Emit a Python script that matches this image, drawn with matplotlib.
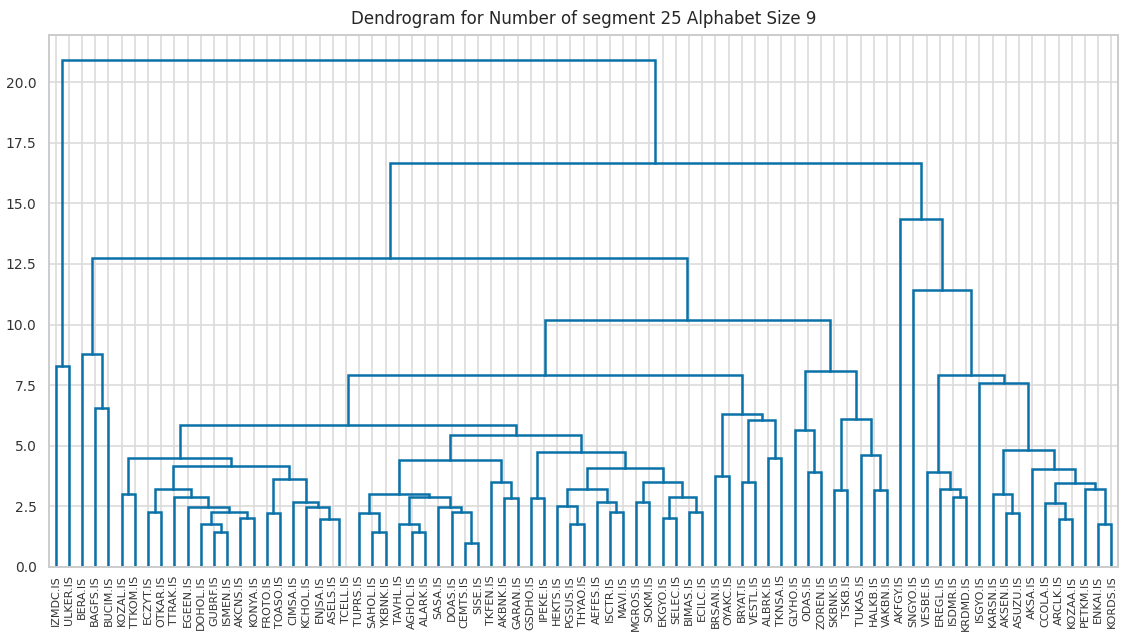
import matplotlib
matplotlib.use("Agg")
import numpy as np
from matplotlib import pyplot as plt

# leaf labels in dendrogram order
labels = [
    "IZMDC.IS", "ULKER.IS", "BERA.IS", "BAGFS.IS", "BUCIM.IS", "KOZAL.IS",
    "TTKOM.IS", "ECZYT.IS", "OTKAR.IS", "TTRAK.IS", "EGEEN.IS", "DOHOL.IS",
    "GUBRF.IS", "ISMEN.IS", "AKCNS.IS", "KONYA.IS", "FROTO.IS", "TOASO.IS",
    "CIMSA.IS", "KCHOL.IS", "ENJSA.IS", "ASELS.IS", "TCELL.IS", "TUPRS.IS",
    "SAHOL.IS", "YKBNK.IS", "TAVHL.IS", "AGHOL.IS", "ALARK.IS", "SASA.IS",
    "DOAS.IS", "CEMTS.IS", "SISE.IS", "TKFEN.IS", "AKBNK.IS", "GARAN.IS",
    "GSDHO.IS", "IPEKE.IS", "HEKTS.IS", "PGSUS.IS", "THYAO.IS", "AEFES.IS",
    "ISCTR.IS", "MAVI.IS", "MGROS.IS", "SOKM.IS", "EKGYO.IS", "SELEC.IS",
    "BIMAS.IS", "ECILC.IS", "BRSAN.IS", "OYAKC.IS", "BRYAT.IS", "VESTL.IS",
    "ALBRK.IS", "TKNSA.IS", "GLYHO.IS", "ODAS.IS", "ZOREN.IS", "SKBNK.IS",
    "TSKB.IS", "TUKAS.IS", "HALKB.IS", "VAKBN.IS", "AKFGY.IS", "SNGYO.IS",
    "VESBE.IS", "EREGL.IS", "ISDMR.IS", "KRDMD.IS", "ISGYO.IS", "KARSN.IS",
    "AKSEN.IS", "ASUZU.IS", "AKSA.IS", "CCOLA.IS", "ARCLK.IS", "KOZAA.IS",
    "PETKM.IS", "ENKAI.IS", "KORDS.IS",
]

# merges: (left, right, distance); a child is a label or the index of an earlier merge
merges = [
    ("ASELS.IS", "TCELL.IS", 0.0),      # 0
    ("GUBRF.IS", "ISMEN.IS", 1.43),     # 1
    ("DOHOL.IS", 1, 1.77),              # 2
    ("AKCNS.IS", "KONYA.IS", 2.03),     # 3
    (2, 3, 2.25),                       # 4
    ("EGEEN.IS", 4, 2.49),              # 5
    ("TTRAK.IS", 5, 2.87),              # 6
    ("ECZYT.IS", "OTKAR.IS", 2.25),     # 7
    (7, 6, 3.22),                       # 8
    ("FROTO.IS", "TOASO.IS", 2.24),     # 9
    ("ENJSA.IS", 0, 2.0),               # 10
    ("KCHOL.IS", 10, 2.49),             # 11
    ("CIMSA.IS", 11, 2.69),             # 12
    (9, 12, 3.64),                      # 13
    (8, 13, 4.16),                      # 14
    ("KOZAL.IS", "TTKOM.IS", 3.01),     # 15
    (15, 14, 4.48),                     # 16
    ("SAHOL.IS", "YKBNK.IS", 1.43),     # 17
    ("TUPRS.IS", 17, 2.24),             # 18
    ("AGHOL.IS", "ALARK.IS", 1.43),     # 19
    ("TAVHL.IS", 19, 1.77),             # 20
    ("CEMTS.IS", "SISE.IS", 1.0),       # 21
    ("DOAS.IS", 21, 2.25),              # 22
    ("SASA.IS", 22, 2.49),              # 23
    (20, 23, 2.87),                     # 24
    (18, 24, 3.01),                     # 25
    ("AKBNK.IS", "GARAN.IS", 2.86),     # 26
    ("TKFEN.IS", 26, 3.52),             # 27
    (25, 27, 4.41),                     # 28
    ("GSDHO.IS", "IPEKE.IS", 2.86),     # 29
    ("PGSUS.IS", "THYAO.IS", 1.77),     # 30
    ("HEKTS.IS", 30, 2.52),             # 31
    ("ISCTR.IS", "MAVI.IS", 2.25),      # 32
    ("AEFES.IS", 32, 2.69),             # 33
    (31, 33, 3.22),                     # 34
    ("MGROS.IS", "SOKM.IS", 2.69),      # 35
    ("EKGYO.IS", "SELEC.IS", 2.03),     # 36
    ("BIMAS.IS", "ECILC.IS", 2.25),     # 37
    (36, 37, 2.87),                     # 38
    (35, 38, 3.49),                     # 39
    (34, 39, 4.07),                     # 40
    (29, 40, 4.76),                     # 41
    (28, 41, 5.45),                     # 42
    (16, 42, 5.87),                     # 43
    ("BRSAN.IS", "OYAKC.IS", 3.77),     # 44
    ("BRYAT.IS", "VESTL.IS", 3.49),     # 45
    ("ALBRK.IS", "TKNSA.IS", 4.51),     # 46
    (45, 46, 6.06),                     # 47
    (44, 47, 6.30),                     # 48
    (43, 48, 7.90),                     # 49
    ("ODAS.IS", "ZOREN.IS", 3.90),      # 50
    ("GLYHO.IS", 50, 5.65),             # 51
    ("SKBNK.IS", "TSKB.IS", 3.18),      # 52
    ("HALKB.IS", "VAKBN.IS", 3.18),     # 53
    ("TUKAS.IS", 53, 4.62),             # 54
    (52, 54, 6.10),                     # 55
    (51, 55, 8.10),                     # 56
    (49, 56, 10.19),                    # 57
    ("BAGFS.IS", "BUCIM.IS", 6.57),     # 58
    ("BERA.IS", 58, 8.78),              # 59
    (59, 57, 12.74),                    # 60
    ("ISDMR.IS", "KRDMD.IS", 2.87),     # 61
    ("EREGL.IS", 61, 3.20),             # 62
    ("VESBE.IS", 62, 3.90),             # 63
    ("AKSEN.IS", "ASUZU.IS", 2.24),     # 64
    ("KARSN.IS", 64, 3.01),             # 65
    ("ARCLK.IS", "KOZAA.IS", 1.98),     # 66
    ("CCOLA.IS", 66, 2.65),             # 67
    ("ENKAI.IS", "KORDS.IS", 1.77),     # 68
    ("PETKM.IS", 68, 3.20),             # 69
    (67, 69, 3.45),                     # 70
    ("AKSA.IS", 70, 4.04),              # 71
    (65, 71, 4.82),                     # 72
    ("ISGYO.IS", 72, 7.57),             # 73
    (63, 73, 7.90),                     # 74
    ("SNGYO.IS", 74, 11.42),            # 75
    ("AKFGY.IS", 75, 14.34),            # 76
    (60, 76, 16.67),                    # 77
    ("IZMDC.IS", "ULKER.IS", 8.30),     # 78
    (78, 77, 20.90),                    # 79
]

line_color = "#0a72a8"
grid_color = "#dcdcdc"

leaf_x = {name: 5 + 10 * i for i, name in enumerate(labels)}
node_x = []
node_h = []


def child_pos(c):
    if isinstance(c, str):
        return leaf_x[c], 0.0
    return node_x[c], node_h[c]


fig = plt.figure(figsize=(11.21, 6.42), dpi=100)
ax = fig.add_axes([49 / 1121, 75 / 642, 1069 / 1121, 532 / 642])

for left, right, h in merges:
    xl, hl = child_pos(left)
    xr, hr = child_pos(right)
    ax.plot([xl, xl, xr, xr], [hl, h, h, hr], color=line_color, lw=1.8,
            solid_joinstyle="miter", zorder=2)
    node_x.append((xl + xr) / 2)
    node_h.append(h)

n = len(labels)
ax.set_xlim(0, 10 * n)
ax.set_ylim(0, max(node_h) * 1.05)
ax.set_xticks([leaf_x[l] for l in labels])
ax.set_xticklabels(labels, rotation=90, fontsize=8, color="#333333")
ax.set_yticks(np.arange(0, 21, 2.5))
ax.tick_params(axis="y", labelsize=10, colors="#333333", length=0, pad=9)
ax.tick_params(axis="x", length=0, pad=6)
ax.grid(True, color=grid_color, lw=1.2, zorder=0)
ax.set_axisbelow(True)
for s in ax.spines.values():
    s.set_color("#cccccc")
    s.set_linewidth(1.4)
    s.set_zorder(3)
ax.set_title("Dendrogram for Number of segment 25 Alphabet Size 9", fontsize=12,
             color="#262626", pad=8)

fig.savefig("out.png", dpi=100)
